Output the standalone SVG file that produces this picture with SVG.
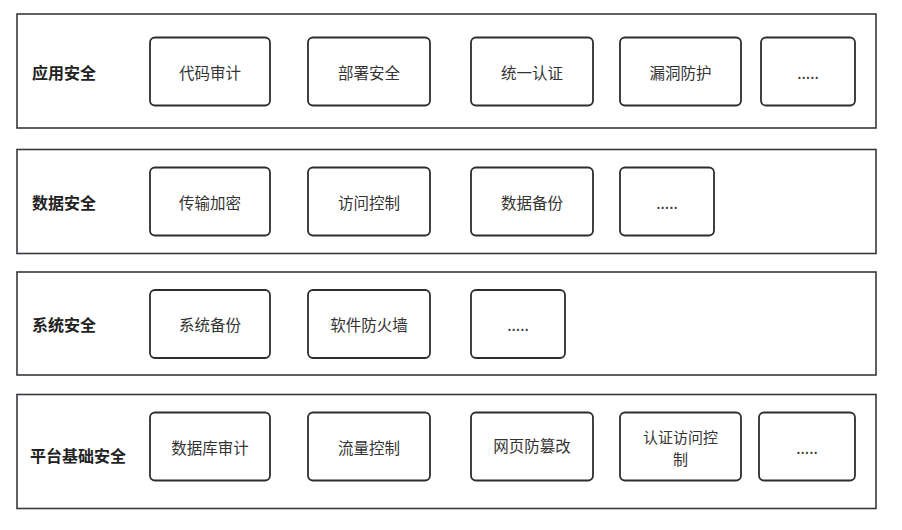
<svg xmlns="http://www.w3.org/2000/svg" width="902" height="530" viewBox="0 0 902 530">
<style>
.row{fill:#fff;stroke:#36393d;stroke-width:1.6}
.box{fill:#fff;stroke:#2b2d30;stroke-width:1.8}
.lbl{font-family:"Noto Sans CJK SC","Noto Sans",sans-serif;font-size:16px;font-weight:bold;fill:#222}
.t{font-family:"Noto Sans CJK SC","Noto Sans",sans-serif;font-size:15.5px;fill:#333;text-anchor:middle;dominant-baseline:central}
</style>
<rect width="902" height="530" fill="#fff"/>
<g id="row1">
<rect class="row" x="17" y="14" width="859" height="114"/>
<text class="lbl" x="32" y="72" dominant-baseline="central">应用安全</text>
</g>
<g id="n-code"><rect class="box" x="150" y="37.5" width="120" height="68" rx="5"/><text class="t" x="210" y="71.5">代码审计</text></g>
<g id="n-deploy"><rect class="box" x="308" y="37.5" width="122" height="68" rx="5"/><text class="t" x="369" y="71.5">部署安全</text></g>
<g id="n-auth"><rect class="box" x="471" y="37.5" width="122" height="68" rx="5"/><text class="t" x="532" y="71.5">统一认证</text></g>
<g id="n-vuln"><rect class="box" x="620" y="37.5" width="121" height="68" rx="5"/><text class="t" x="680.5" y="71.5">漏洞防护</text></g>
<g id="n-more1"><rect class="box" x="761" y="37.5" width="94" height="68" rx="5"/><text class="t" x="808" y="71.5">.....</text></g>

<g id="row2">
<rect class="row" x="17" y="149.5" width="859" height="104"/>
<text class="lbl" x="32" y="202" dominant-baseline="central">数据安全</text>
</g>
<g id="n-enc"><rect class="box" x="150" y="167.5" width="120" height="68" rx="5"/><text class="t" x="210" y="201.5">传输加密</text></g>
<g id="n-acc"><rect class="box" x="308" y="167.5" width="122" height="68" rx="5"/><text class="t" x="369" y="201.5">访问控制</text></g>
<g id="n-backup"><rect class="box" x="471" y="167.5" width="122" height="68" rx="5"/><text class="t" x="532" y="201.5">数据备份</text></g>
<g id="n-more2"><rect class="box" x="620" y="167.5" width="94" height="68" rx="5"/><text class="t" x="667" y="201.5">.....</text></g>

<g id="row3">
<rect class="row" x="17" y="272" width="859" height="103"/>
<text class="lbl" x="32" y="324" dominant-baseline="central">系统安全</text>
</g>
<g id="n-sysbak"><rect class="box" x="150" y="290" width="120" height="68" rx="5"/><text class="t" x="210" y="324">系统备份</text></g>
<g id="n-fw"><rect class="box" x="308" y="290" width="122" height="68" rx="5"/><text class="t" x="369" y="324">软件防火墙</text></g>
<g id="n-more3"><rect class="box" x="471" y="290" width="94" height="68" rx="5"/><text class="t" x="518" y="324">.....</text></g>

<g id="row4">
<rect class="row" x="17" y="394.5" width="859" height="114"/>
<text class="lbl" x="30" y="455" dominant-baseline="central">平台基础安全</text>
</g>
<g id="n-dbaudit"><rect class="box" x="150" y="412.5" width="120" height="68" rx="5"/><text class="t" x="210" y="446.5">数据库审计</text></g>
<g id="n-flow"><rect class="box" x="308" y="412.5" width="122" height="68" rx="5"/><text class="t" x="369" y="446.5">流量控制</text></g>
<g id="n-web"><rect class="box" x="471" y="412.5" width="122" height="68" rx="5"/><text class="t" x="532" y="444.5">网页防篡改</text></g>
<g id="n-authacc"><rect class="box" x="620" y="412.5" width="121" height="68" rx="5"/><text class="t" style="font-size:15px"><tspan x="680.5" y="435.5">认证访问控</tspan><tspan x="680.5" y="457.5">制</tspan></text></g>
<g id="n-more4"><rect class="box" x="759" y="412.5" width="96" height="68" rx="5"/><text class="t" x="807" y="446.5">.....</text></g>
<g id="connectors"/>
</svg>
